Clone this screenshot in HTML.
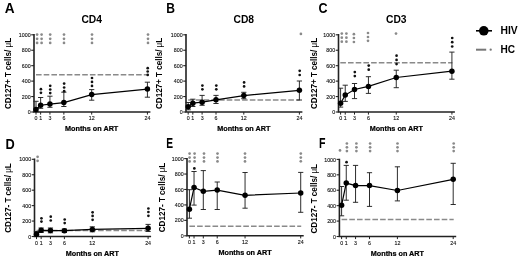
<!DOCTYPE html>
<html><head><meta charset="utf-8"><style>
html,body{margin:0;padding:0;background:#fff;}
body{width:520px;height:259px;overflow:hidden;}
svg{display:block;font-family:"Liberation Sans", sans-serif;will-change:transform;}
</style></head><body>
<svg width="520" height="259" viewBox="0 0 520 259" xmlns="http://www.w3.org/2000/svg">
<rect width="520" height="259" fill="#fff"/>
<text x="0" y="0" font-size="14.2" font-weight="bold" text-anchor="start" fill="#000" transform="translate(4.7,13.1) scale(0.96,1)">A</text>
<text x="91.7" y="22.8" font-size="10.0" font-weight="bold" text-anchor="middle" fill="#000"  textLength="20.6" lengthAdjust="spacingAndGlyphs">CD4</text>
<text x="0" y="0" font-size="8.7" font-weight="bold" text-anchor="middle" fill="#000" transform="translate(10.7,73.5) rotate(-90)" textLength="71.2" lengthAdjust="spacingAndGlyphs">CD127+ T cells/ <tspan font-weight="normal">μ</tspan>L</text>
<text x="91.7" y="131.2" font-size="7.25" font-weight="bold" text-anchor="middle" fill="#000" stroke="#000" stroke-width="0.22" textLength="53.2" lengthAdjust="spacingAndGlyphs">Months on ART</text>
<path d="M34,34.1V112H150.41" fill="none" stroke="#222" stroke-width="1.6"/>
<path d="M31.2,112H34" stroke="#222" stroke-width="1.1"/>
<text x="30.6" y="114.1" font-size="6.2" font-weight="normal" text-anchor="end" fill="#111" stroke="#111" stroke-width="0.12" textLength="2.95" lengthAdjust="spacingAndGlyphs">0</text>
<path d="M31.2,96.56H34" stroke="#222" stroke-width="1.1"/>
<text x="30.6" y="98.66" font-size="6.2" font-weight="normal" text-anchor="end" fill="#111" stroke="#111" stroke-width="0.12" textLength="8.85" lengthAdjust="spacingAndGlyphs">200</text>
<path d="M31.2,81.12H34" stroke="#222" stroke-width="1.1"/>
<text x="30.6" y="83.22" font-size="6.2" font-weight="normal" text-anchor="end" fill="#111" stroke="#111" stroke-width="0.12" textLength="8.85" lengthAdjust="spacingAndGlyphs">400</text>
<path d="M31.2,65.68H34" stroke="#222" stroke-width="1.1"/>
<text x="30.6" y="67.78" font-size="6.2" font-weight="normal" text-anchor="end" fill="#111" stroke="#111" stroke-width="0.12" textLength="8.85" lengthAdjust="spacingAndGlyphs">600</text>
<path d="M31.2,50.24H34" stroke="#222" stroke-width="1.1"/>
<text x="30.6" y="52.34" font-size="6.2" font-weight="normal" text-anchor="end" fill="#111" stroke="#111" stroke-width="0.12" textLength="8.85" lengthAdjust="spacingAndGlyphs">800</text>
<path d="M31.2,34.8H34" stroke="#222" stroke-width="1.1"/>
<text x="30.6" y="36.9" font-size="6.2" font-weight="normal" text-anchor="end" fill="#111" stroke="#111" stroke-width="0.12" textLength="11.8" lengthAdjust="spacingAndGlyphs">1000</text>
<path d="M36,112V114.6" stroke="#222" stroke-width="1.0"/>
<text x="36" y="119.9" font-size="6.2" font-weight="normal" text-anchor="middle" fill="#111" stroke="#111" stroke-width="0.12" textLength="2.95" lengthAdjust="spacingAndGlyphs">0</text>
<path d="M40.64,112V114.6" stroke="#222" stroke-width="1.0"/>
<text x="40.64" y="119.9" font-size="6.2" font-weight="normal" text-anchor="middle" fill="#111" stroke="#111" stroke-width="0.12" textLength="2.95" lengthAdjust="spacingAndGlyphs">1</text>
<path d="M49.93,112V114.6" stroke="#222" stroke-width="1.0"/>
<text x="49.93" y="119.9" font-size="6.2" font-weight="normal" text-anchor="middle" fill="#111" stroke="#111" stroke-width="0.12" textLength="2.95" lengthAdjust="spacingAndGlyphs">3</text>
<path d="M63.85,112V114.6" stroke="#222" stroke-width="1.0"/>
<text x="63.85" y="119.9" font-size="6.2" font-weight="normal" text-anchor="middle" fill="#111" stroke="#111" stroke-width="0.12" textLength="2.95" lengthAdjust="spacingAndGlyphs">6</text>
<path d="M91.7,112V114.6" stroke="#222" stroke-width="1.0"/>
<text x="91.7" y="119.9" font-size="6.2" font-weight="normal" text-anchor="middle" fill="#111" stroke="#111" stroke-width="0.12" textLength="5.9" lengthAdjust="spacingAndGlyphs">12</text>
<path d="M147.41,112V114.6" stroke="#222" stroke-width="1.0"/>
<text x="147.41" y="119.9" font-size="6.2" font-weight="normal" text-anchor="middle" fill="#111" stroke="#111" stroke-width="0.12" textLength="5.9" lengthAdjust="spacingAndGlyphs">24</text>
<path d="M36,74.8H147.91" stroke="#8a8a8a" stroke-width="1.5" stroke-dasharray="5.6 2.1"/>
<path d="M36,101.3V111.6M33.4,101.3H38.6M33.4,111.6H38.6" stroke="#222" stroke-width="0.95" fill="none"/>
<path d="M40.64,97.5V108.3M38.04,97.5H43.24M38.04,108.3H43.24" stroke="#222" stroke-width="0.95" fill="none"/>
<path d="M49.93,96.2V107.3M47.33,96.2H52.53M47.33,107.3H52.53" stroke="#222" stroke-width="0.95" fill="none"/>
<path d="M63.85,92.2V106.5M61.25,92.2H66.45M61.25,106.5H66.45" stroke="#222" stroke-width="0.95" fill="none"/>
<path d="M91.7,89.6V100.2M89.1,89.6H94.3M89.1,100.2H94.3" stroke="#222" stroke-width="0.95" fill="none"/>
<path d="M147.41,82.2V97.2M144.81,82.2H150.01M144.81,97.2H150.01" stroke="#222" stroke-width="0.95" fill="none"/>
<polyline points="36,109.5 40.64,105.2 49.93,104.1 63.85,102.6 91.7,94.6 147.41,89.1" fill="none" stroke="#000" stroke-width="1.2"/>
<circle cx="36" cy="109.5" r="2.75" fill="#000"/>
<circle cx="40.64" cy="105.2" r="2.75" fill="#000"/>
<circle cx="49.93" cy="104.1" r="2.75" fill="#000"/>
<circle cx="63.85" cy="102.6" r="2.75" fill="#000"/>
<circle cx="91.7" cy="94.6" r="2.75" fill="#000"/>
<circle cx="147.41" cy="89.1" r="2.75" fill="#000"/>
<circle cx="40.94" cy="89.2" r="1.35" fill="#111"/>
<circle cx="40.94" cy="92.8" r="1.35" fill="#111"/>
<circle cx="50.23" cy="85.8" r="1.35" fill="#111"/>
<circle cx="50.23" cy="89.5" r="1.35" fill="#111"/>
<circle cx="50.23" cy="93.1" r="1.35" fill="#111"/>
<circle cx="64.15" cy="83.6" r="1.35" fill="#111"/>
<circle cx="64.15" cy="87.5" r="1.35" fill="#111"/>
<circle cx="64.15" cy="91.2" r="1.35" fill="#111"/>
<circle cx="92" cy="78" r="1.35" fill="#111"/>
<circle cx="92" cy="81.9" r="1.35" fill="#111"/>
<circle cx="92" cy="85.9" r="1.35" fill="#111"/>
<circle cx="147.71" cy="68.2" r="1.35" fill="#111"/>
<circle cx="147.71" cy="71.5" r="1.35" fill="#111"/>
<circle cx="147.71" cy="74.9" r="1.35" fill="#111"/>
<circle cx="37.1" cy="34.6" r="1.35" fill="#8a8a8a"/>
<circle cx="37.1" cy="38.8" r="1.35" fill="#8a8a8a"/>
<circle cx="37.1" cy="42.9" r="1.35" fill="#8a8a8a"/>
<circle cx="41.6" cy="34.6" r="1.35" fill="#8a8a8a"/>
<circle cx="41.6" cy="38.8" r="1.35" fill="#8a8a8a"/>
<circle cx="41.6" cy="42.9" r="1.35" fill="#8a8a8a"/>
<circle cx="50.2" cy="34.6" r="1.35" fill="#8a8a8a"/>
<circle cx="50.2" cy="38.8" r="1.35" fill="#8a8a8a"/>
<circle cx="50.2" cy="42.9" r="1.35" fill="#8a8a8a"/>
<circle cx="64" cy="34.6" r="1.35" fill="#8a8a8a"/>
<circle cx="64" cy="38.8" r="1.35" fill="#8a8a8a"/>
<circle cx="64" cy="42.9" r="1.35" fill="#8a8a8a"/>
<circle cx="92" cy="34.6" r="1.35" fill="#8a8a8a"/>
<circle cx="92" cy="38.8" r="1.35" fill="#8a8a8a"/>
<circle cx="92" cy="42.9" r="1.35" fill="#8a8a8a"/>
<circle cx="148" cy="34.6" r="1.35" fill="#8a8a8a"/>
<circle cx="148" cy="38.8" r="1.35" fill="#8a8a8a"/>
<circle cx="148" cy="42.9" r="1.35" fill="#8a8a8a"/>
<text x="0" y="0" font-size="14.2" font-weight="bold" text-anchor="start" fill="#000" transform="translate(166.3,13) scale(0.85,1)">B</text>
<text x="243.8" y="22.8" font-size="10.0" font-weight="bold" text-anchor="middle" fill="#000"  textLength="20.6" lengthAdjust="spacingAndGlyphs">CD8</text>
<text x="0" y="0" font-size="8.7" font-weight="bold" text-anchor="middle" fill="#000" transform="translate(161.8,73.4) rotate(-90)" textLength="71.2" lengthAdjust="spacingAndGlyphs">CD127+ T cells/ <tspan font-weight="normal">μ</tspan>L</text>
<text x="243.8" y="131.2" font-size="7.25" font-weight="bold" text-anchor="middle" fill="#000" stroke="#000" stroke-width="0.22" textLength="53.2" lengthAdjust="spacingAndGlyphs">Months on ART</text>
<path d="M186,34.1V112H302.39" fill="none" stroke="#222" stroke-width="1.6"/>
<path d="M183.2,112H186" stroke="#222" stroke-width="1.1"/>
<text x="182.6" y="114.1" font-size="6.2" font-weight="normal" text-anchor="end" fill="#111" stroke="#111" stroke-width="0.12" textLength="2.95" lengthAdjust="spacingAndGlyphs">0</text>
<path d="M183.2,96.56H186" stroke="#222" stroke-width="1.1"/>
<text x="182.6" y="98.66" font-size="6.2" font-weight="normal" text-anchor="end" fill="#111" stroke="#111" stroke-width="0.12" textLength="8.85" lengthAdjust="spacingAndGlyphs">200</text>
<path d="M183.2,81.12H186" stroke="#222" stroke-width="1.1"/>
<text x="182.6" y="83.22" font-size="6.2" font-weight="normal" text-anchor="end" fill="#111" stroke="#111" stroke-width="0.12" textLength="8.85" lengthAdjust="spacingAndGlyphs">400</text>
<path d="M183.2,65.68H186" stroke="#222" stroke-width="1.1"/>
<text x="182.6" y="67.78" font-size="6.2" font-weight="normal" text-anchor="end" fill="#111" stroke="#111" stroke-width="0.12" textLength="8.85" lengthAdjust="spacingAndGlyphs">600</text>
<path d="M183.2,50.24H186" stroke="#222" stroke-width="1.1"/>
<text x="182.6" y="52.34" font-size="6.2" font-weight="normal" text-anchor="end" fill="#111" stroke="#111" stroke-width="0.12" textLength="8.85" lengthAdjust="spacingAndGlyphs">800</text>
<path d="M183.2,34.8H186" stroke="#222" stroke-width="1.1"/>
<text x="182.6" y="36.9" font-size="6.2" font-weight="normal" text-anchor="end" fill="#111" stroke="#111" stroke-width="0.12" textLength="11.8" lengthAdjust="spacingAndGlyphs">1000</text>
<path d="M188.2,112V114.6" stroke="#222" stroke-width="1.0"/>
<text x="188.2" y="119.9" font-size="6.2" font-weight="normal" text-anchor="middle" fill="#111" stroke="#111" stroke-width="0.12" textLength="2.95" lengthAdjust="spacingAndGlyphs">0</text>
<path d="M192.83,112V114.6" stroke="#222" stroke-width="1.0"/>
<text x="192.83" y="119.9" font-size="6.2" font-weight="normal" text-anchor="middle" fill="#111" stroke="#111" stroke-width="0.12" textLength="2.95" lengthAdjust="spacingAndGlyphs">1</text>
<path d="M202.1,112V114.6" stroke="#222" stroke-width="1.0"/>
<text x="202.1" y="119.9" font-size="6.2" font-weight="normal" text-anchor="middle" fill="#111" stroke="#111" stroke-width="0.12" textLength="2.95" lengthAdjust="spacingAndGlyphs">3</text>
<path d="M216,112V114.6" stroke="#222" stroke-width="1.0"/>
<text x="216" y="119.9" font-size="6.2" font-weight="normal" text-anchor="middle" fill="#111" stroke="#111" stroke-width="0.12" textLength="2.95" lengthAdjust="spacingAndGlyphs">6</text>
<path d="M243.8,112V114.6" stroke="#222" stroke-width="1.0"/>
<text x="243.8" y="119.9" font-size="6.2" font-weight="normal" text-anchor="middle" fill="#111" stroke="#111" stroke-width="0.12" textLength="5.9" lengthAdjust="spacingAndGlyphs">12</text>
<path d="M299.39,112V114.6" stroke="#222" stroke-width="1.0"/>
<text x="299.39" y="119.9" font-size="6.2" font-weight="normal" text-anchor="middle" fill="#111" stroke="#111" stroke-width="0.12" textLength="5.9" lengthAdjust="spacingAndGlyphs">24</text>
<path d="M188.2,100H299.89" stroke="#8a8a8a" stroke-width="1.5" stroke-dasharray="5.6 2.1"/>
<path d="M188.2,102.5V109.8M185.6,102.5H190.8M185.6,109.8H190.8" stroke="#222" stroke-width="0.95" fill="none"/>
<path d="M192.83,99.2V106.5M190.23,99.2H195.43M190.23,106.5H195.43" stroke="#222" stroke-width="0.95" fill="none"/>
<path d="M202.1,95.4V105.3M199.5,95.4H204.7M199.5,105.3H204.7" stroke="#222" stroke-width="0.95" fill="none"/>
<path d="M216,95.4V103.5M213.4,95.4H218.6M213.4,103.5H218.6" stroke="#222" stroke-width="0.95" fill="none"/>
<path d="M243.8,92.3V98.7M241.2,92.3H246.4M241.2,98.7H246.4" stroke="#222" stroke-width="0.95" fill="none"/>
<path d="M299.39,81V100M296.79,81H301.99M296.79,100H301.99" stroke="#222" stroke-width="0.95" fill="none"/>
<polyline points="188.2,106.8 192.83,103.2 202.1,102.2 216,99.8 243.8,95.6 299.39,90.3" fill="none" stroke="#000" stroke-width="1.2"/>
<circle cx="188.2" cy="106.8" r="2.75" fill="#000"/>
<circle cx="192.83" cy="103.2" r="2.75" fill="#000"/>
<circle cx="202.1" cy="102.2" r="2.75" fill="#000"/>
<circle cx="216" cy="99.8" r="2.75" fill="#000"/>
<circle cx="243.8" cy="95.6" r="2.75" fill="#000"/>
<circle cx="299.39" cy="90.3" r="2.75" fill="#000"/>
<circle cx="202.4" cy="85.6" r="1.35" fill="#111"/>
<circle cx="202.4" cy="89.3" r="1.35" fill="#111"/>
<circle cx="216.3" cy="85.6" r="1.35" fill="#111"/>
<circle cx="216.3" cy="89.3" r="1.35" fill="#111"/>
<circle cx="244.1" cy="82.4" r="1.35" fill="#111"/>
<circle cx="244.1" cy="86.4" r="1.35" fill="#111"/>
<circle cx="299.69" cy="70.8" r="1.35" fill="#111"/>
<circle cx="299.69" cy="75" r="1.35" fill="#111"/>
<circle cx="300.9" cy="33.9" r="1.35" fill="#8a8a8a"/>
<text x="0" y="0" font-size="14.2" font-weight="bold" text-anchor="start" fill="#000" transform="translate(318.4,13.2) scale(0.88,1)">C</text>
<text x="396.26" y="22.8" font-size="10.0" font-weight="bold" text-anchor="middle" fill="#000"  textLength="20.6" lengthAdjust="spacingAndGlyphs">CD3</text>
<text x="0" y="0" font-size="8.7" font-weight="bold" text-anchor="middle" fill="#000" transform="translate(317.3,73.5) rotate(-90)" textLength="71.2" lengthAdjust="spacingAndGlyphs">CD127+ T cells/ <tspan font-weight="normal">μ</tspan>L</text>
<text x="396.26" y="131.2" font-size="7.25" font-weight="bold" text-anchor="middle" fill="#000" stroke="#000" stroke-width="0.22" textLength="53.2" lengthAdjust="spacingAndGlyphs">Months on ART</text>
<path d="M338.5,34.1V112H454.91" fill="none" stroke="#222" stroke-width="1.6"/>
<path d="M335.7,112H338.5" stroke="#222" stroke-width="1.1"/>
<text x="335.1" y="114.1" font-size="6.2" font-weight="normal" text-anchor="end" fill="#111" stroke="#111" stroke-width="0.12" textLength="2.95" lengthAdjust="spacingAndGlyphs">0</text>
<path d="M335.7,96.56H338.5" stroke="#222" stroke-width="1.1"/>
<text x="335.1" y="98.66" font-size="6.2" font-weight="normal" text-anchor="end" fill="#111" stroke="#111" stroke-width="0.12" textLength="8.85" lengthAdjust="spacingAndGlyphs">200</text>
<path d="M335.7,81.12H338.5" stroke="#222" stroke-width="1.1"/>
<text x="335.1" y="83.22" font-size="6.2" font-weight="normal" text-anchor="end" fill="#111" stroke="#111" stroke-width="0.12" textLength="8.85" lengthAdjust="spacingAndGlyphs">400</text>
<path d="M335.7,65.68H338.5" stroke="#222" stroke-width="1.1"/>
<text x="335.1" y="67.78" font-size="6.2" font-weight="normal" text-anchor="end" fill="#111" stroke="#111" stroke-width="0.12" textLength="8.85" lengthAdjust="spacingAndGlyphs">600</text>
<path d="M335.7,50.24H338.5" stroke="#222" stroke-width="1.1"/>
<text x="335.1" y="52.34" font-size="6.2" font-weight="normal" text-anchor="end" fill="#111" stroke="#111" stroke-width="0.12" textLength="8.85" lengthAdjust="spacingAndGlyphs">800</text>
<path d="M335.7,34.8H338.5" stroke="#222" stroke-width="1.1"/>
<text x="335.1" y="36.9" font-size="6.2" font-weight="normal" text-anchor="end" fill="#111" stroke="#111" stroke-width="0.12" textLength="11.8" lengthAdjust="spacingAndGlyphs">1000</text>
<path d="M340.6,112V114.6" stroke="#222" stroke-width="1.0"/>
<text x="340.6" y="119.9" font-size="6.2" font-weight="normal" text-anchor="middle" fill="#111" stroke="#111" stroke-width="0.12" textLength="2.95" lengthAdjust="spacingAndGlyphs">0</text>
<path d="M345.24,112V114.6" stroke="#222" stroke-width="1.0"/>
<text x="345.24" y="119.9" font-size="6.2" font-weight="normal" text-anchor="middle" fill="#111" stroke="#111" stroke-width="0.12" textLength="2.95" lengthAdjust="spacingAndGlyphs">1</text>
<path d="M354.51,112V114.6" stroke="#222" stroke-width="1.0"/>
<text x="354.51" y="119.9" font-size="6.2" font-weight="normal" text-anchor="middle" fill="#111" stroke="#111" stroke-width="0.12" textLength="2.95" lengthAdjust="spacingAndGlyphs">3</text>
<path d="M368.43,112V114.6" stroke="#222" stroke-width="1.0"/>
<text x="368.43" y="119.9" font-size="6.2" font-weight="normal" text-anchor="middle" fill="#111" stroke="#111" stroke-width="0.12" textLength="2.95" lengthAdjust="spacingAndGlyphs">6</text>
<path d="M396.26,112V114.6" stroke="#222" stroke-width="1.0"/>
<text x="396.26" y="119.9" font-size="6.2" font-weight="normal" text-anchor="middle" fill="#111" stroke="#111" stroke-width="0.12" textLength="5.9" lengthAdjust="spacingAndGlyphs">12</text>
<path d="M451.91,112V114.6" stroke="#222" stroke-width="1.0"/>
<text x="451.91" y="119.9" font-size="6.2" font-weight="normal" text-anchor="middle" fill="#111" stroke="#111" stroke-width="0.12" textLength="5.9" lengthAdjust="spacingAndGlyphs">24</text>
<path d="M340.3,62.7H452.41" stroke="#8a8a8a" stroke-width="1.5" stroke-dasharray="5.6 2.1"/>
<path d="M340.6,88.2V107.1M338,88.2H343.2M338,107.1H343.2" stroke="#222" stroke-width="0.95" fill="none"/>
<path d="M345.24,85.2V101.4M342.64,85.2H347.84M342.64,101.4H347.84" stroke="#222" stroke-width="0.95" fill="none"/>
<path d="M354.51,83.5V98.6M351.91,83.5H357.11M351.91,98.6H357.11" stroke="#222" stroke-width="0.95" fill="none"/>
<path d="M368.43,76.7V93.4M365.83,76.7H371.03M365.83,93.4H371.03" stroke="#222" stroke-width="0.95" fill="none"/>
<path d="M396.26,70.2V87.7M393.66,70.2H398.86M393.66,87.7H398.86" stroke="#222" stroke-width="0.95" fill="none"/>
<path d="M451.91,52.1V79.2M449.31,52.1H454.51M449.31,79.2H454.51" stroke="#222" stroke-width="0.95" fill="none"/>
<polyline points="340.6,103.2 345.24,95.1 354.51,89.5 368.43,86.4 396.26,77.5 451.91,71.2" fill="none" stroke="#000" stroke-width="1.2"/>
<circle cx="340.6" cy="103.2" r="2.75" fill="#000"/>
<circle cx="345.24" cy="95.1" r="2.75" fill="#000"/>
<circle cx="354.51" cy="89.5" r="2.75" fill="#000"/>
<circle cx="368.43" cy="86.4" r="2.75" fill="#000"/>
<circle cx="396.26" cy="77.5" r="2.75" fill="#000"/>
<circle cx="451.91" cy="71.2" r="2.75" fill="#000"/>
<circle cx="354.81" cy="72.1" r="1.35" fill="#111"/>
<circle cx="354.81" cy="76.1" r="1.35" fill="#111"/>
<circle cx="368.73" cy="65.6" r="1.35" fill="#111"/>
<circle cx="368.73" cy="69.7" r="1.35" fill="#111"/>
<circle cx="396.56" cy="55.7" r="1.35" fill="#111"/>
<circle cx="396.56" cy="59.9" r="1.35" fill="#111"/>
<circle cx="396.56" cy="64.1" r="1.35" fill="#111"/>
<circle cx="452.21" cy="38" r="1.35" fill="#111"/>
<circle cx="452.21" cy="42.2" r="1.35" fill="#111"/>
<circle cx="452.21" cy="46.5" r="1.35" fill="#111"/>
<circle cx="341.8" cy="33.6" r="1.35" fill="#8a8a8a"/>
<circle cx="341.8" cy="37.7" r="1.35" fill="#8a8a8a"/>
<circle cx="341.8" cy="41.7" r="1.35" fill="#8a8a8a"/>
<circle cx="346.4" cy="33.6" r="1.35" fill="#8a8a8a"/>
<circle cx="346.4" cy="37.7" r="1.35" fill="#8a8a8a"/>
<circle cx="346.4" cy="41.7" r="1.35" fill="#8a8a8a"/>
<circle cx="353.9" cy="34.2" r="1.35" fill="#8a8a8a"/>
<circle cx="353.9" cy="38" r="1.35" fill="#8a8a8a"/>
<circle cx="353.9" cy="42" r="1.35" fill="#8a8a8a"/>
<circle cx="368" cy="33" r="1.35" fill="#8a8a8a"/>
<circle cx="368" cy="37" r="1.35" fill="#8a8a8a"/>
<circle cx="368" cy="40.8" r="1.35" fill="#8a8a8a"/>
<circle cx="396" cy="33.6" r="1.35" fill="#8a8a8a"/>
<text x="0" y="0" font-size="14.2" font-weight="bold" text-anchor="start" fill="#000" transform="translate(5.4,148.5) scale(0.9,1)">D</text>
<text x="0" y="0" font-size="8.7" font-weight="bold" text-anchor="middle" fill="#000" transform="translate(10.7,198) rotate(-90)" textLength="69.6" lengthAdjust="spacingAndGlyphs">CD127- T cells/ <tspan font-weight="normal">μ</tspan>L</text>
<text x="92.3" y="255.7" font-size="7.25" font-weight="bold" text-anchor="middle" fill="#000" stroke="#000" stroke-width="0.22" textLength="53.2" lengthAdjust="spacingAndGlyphs">Months on ART</text>
<path d="M34.5,158.6V236.5H151.1" fill="none" stroke="#222" stroke-width="1.6"/>
<path d="M31.7,236.5H34.5" stroke="#222" stroke-width="1.1"/>
<text x="31.1" y="238.6" font-size="6.2" font-weight="normal" text-anchor="end" fill="#111" stroke="#111" stroke-width="0.12" textLength="2.95" lengthAdjust="spacingAndGlyphs">0</text>
<path d="M31.7,221.06H34.5" stroke="#222" stroke-width="1.1"/>
<text x="31.1" y="223.16" font-size="6.2" font-weight="normal" text-anchor="end" fill="#111" stroke="#111" stroke-width="0.12" textLength="8.85" lengthAdjust="spacingAndGlyphs">200</text>
<path d="M31.7,205.62H34.5" stroke="#222" stroke-width="1.1"/>
<text x="31.1" y="207.72" font-size="6.2" font-weight="normal" text-anchor="end" fill="#111" stroke="#111" stroke-width="0.12" textLength="8.85" lengthAdjust="spacingAndGlyphs">400</text>
<path d="M31.7,190.18H34.5" stroke="#222" stroke-width="1.1"/>
<text x="31.1" y="192.28" font-size="6.2" font-weight="normal" text-anchor="end" fill="#111" stroke="#111" stroke-width="0.12" textLength="8.85" lengthAdjust="spacingAndGlyphs">600</text>
<path d="M31.7,174.74H34.5" stroke="#222" stroke-width="1.1"/>
<text x="31.1" y="176.84" font-size="6.2" font-weight="normal" text-anchor="end" fill="#111" stroke="#111" stroke-width="0.12" textLength="8.85" lengthAdjust="spacingAndGlyphs">800</text>
<path d="M31.7,159.3H34.5" stroke="#222" stroke-width="1.1"/>
<text x="31.1" y="161.4" font-size="6.2" font-weight="normal" text-anchor="end" fill="#111" stroke="#111" stroke-width="0.12" textLength="11.8" lengthAdjust="spacingAndGlyphs">1000</text>
<path d="M36.5,236.5V239.1" stroke="#222" stroke-width="1.0"/>
<text x="36.5" y="244.7" font-size="6.2" font-weight="normal" text-anchor="middle" fill="#111" stroke="#111" stroke-width="0.12" textLength="2.95" lengthAdjust="spacingAndGlyphs">0</text>
<path d="M41.15,236.5V239.1" stroke="#222" stroke-width="1.0"/>
<text x="41.15" y="244.7" font-size="6.2" font-weight="normal" text-anchor="middle" fill="#111" stroke="#111" stroke-width="0.12" textLength="2.95" lengthAdjust="spacingAndGlyphs">1</text>
<path d="M50.45,236.5V239.1" stroke="#222" stroke-width="1.0"/>
<text x="50.45" y="244.7" font-size="6.2" font-weight="normal" text-anchor="middle" fill="#111" stroke="#111" stroke-width="0.12" textLength="2.95" lengthAdjust="spacingAndGlyphs">3</text>
<path d="M64.4,236.5V239.1" stroke="#222" stroke-width="1.0"/>
<text x="64.4" y="244.7" font-size="6.2" font-weight="normal" text-anchor="middle" fill="#111" stroke="#111" stroke-width="0.12" textLength="2.95" lengthAdjust="spacingAndGlyphs">6</text>
<path d="M92.3,236.5V239.1" stroke="#222" stroke-width="1.0"/>
<text x="92.3" y="244.7" font-size="6.2" font-weight="normal" text-anchor="middle" fill="#111" stroke="#111" stroke-width="0.12" textLength="5.9" lengthAdjust="spacingAndGlyphs">12</text>
<path d="M148.1,236.5V239.1" stroke="#222" stroke-width="1.0"/>
<text x="148.1" y="244.7" font-size="6.2" font-weight="normal" text-anchor="middle" fill="#111" stroke="#111" stroke-width="0.12" textLength="5.9" lengthAdjust="spacingAndGlyphs">24</text>
<path d="M36.5,230.6H148.6" stroke="#8a8a8a" stroke-width="1.5" stroke-dasharray="5.6 2.1"/>
<path d="M36.5,231.5V236.5M33.9,231.5H39.1M33.9,236.5H39.1" stroke="#222" stroke-width="0.95" fill="none"/>
<path d="M41.15,228V232.5M38.55,228H43.75M38.55,232.5H43.75" stroke="#222" stroke-width="0.95" fill="none"/>
<path d="M50.45,228V232.8M47.85,228H53.05M47.85,232.8H53.05" stroke="#222" stroke-width="0.95" fill="none"/>
<path d="M64.4,229V232.5M61.8,229H67M61.8,232.5H67" stroke="#222" stroke-width="0.95" fill="none"/>
<path d="M92.3,226.8V231.8M89.7,226.8H94.9M89.7,231.8H94.9" stroke="#222" stroke-width="0.95" fill="none"/>
<path d="M148.1,224.4V231.5M145.5,224.4H150.7M145.5,231.5H150.7" stroke="#222" stroke-width="0.95" fill="none"/>
<polyline points="36.5,234.3 41.15,230.3 50.45,230.6 64.4,230.7 92.3,229.4 148.1,228.3" fill="none" stroke="#000" stroke-width="1.2"/>
<circle cx="36.5" cy="234.3" r="2.75" fill="#000"/>
<circle cx="41.15" cy="230.3" r="2.75" fill="#000"/>
<circle cx="50.45" cy="230.6" r="2.75" fill="#000"/>
<circle cx="64.4" cy="230.7" r="2.75" fill="#000"/>
<circle cx="92.3" cy="229.4" r="2.75" fill="#000"/>
<circle cx="148.1" cy="228.3" r="2.75" fill="#000"/>
<circle cx="41.45" cy="218.3" r="1.35" fill="#111"/>
<circle cx="41.45" cy="221.6" r="1.35" fill="#111"/>
<circle cx="50.75" cy="216.7" r="1.35" fill="#111"/>
<circle cx="50.75" cy="220.5" r="1.35" fill="#111"/>
<circle cx="64.7" cy="219.5" r="1.35" fill="#111"/>
<circle cx="64.7" cy="223.1" r="1.35" fill="#111"/>
<circle cx="92.6" cy="212.3" r="1.35" fill="#111"/>
<circle cx="92.6" cy="215.9" r="1.35" fill="#111"/>
<circle cx="92.6" cy="219.8" r="1.35" fill="#111"/>
<circle cx="148.4" cy="208.5" r="1.35" fill="#111"/>
<circle cx="148.4" cy="212" r="1.35" fill="#111"/>
<circle cx="148.4" cy="215.8" r="1.35" fill="#111"/>
<circle cx="37.6" cy="156.8" r="1.35" fill="#8a8a8a"/>
<circle cx="37.6" cy="160.8" r="1.35" fill="#8a8a8a"/>
<text x="0" y="0" font-size="14.2" font-weight="bold" text-anchor="start" fill="#000" transform="translate(166.3,148.1) scale(0.72,1)">E</text>
<text x="0" y="0" font-size="8.7" font-weight="bold" text-anchor="middle" fill="#000" transform="translate(165,197.5) rotate(-90)" textLength="69.6" lengthAdjust="spacingAndGlyphs">CD127- T cells/ <tspan font-weight="normal">μ</tspan>L</text>
<text x="245.06" y="255" font-size="7.25" font-weight="bold" text-anchor="middle" fill="#000" stroke="#000" stroke-width="0.22" textLength="53.2" lengthAdjust="spacingAndGlyphs">Months on ART</text>
<path d="M187,157.9V235.8H303.71" fill="none" stroke="#222" stroke-width="1.6"/>
<path d="M184.2,235.8H187" stroke="#222" stroke-width="1.1"/>
<text x="183.6" y="237.9" font-size="6.2" font-weight="normal" text-anchor="end" fill="#111" stroke="#111" stroke-width="0.12" textLength="2.95" lengthAdjust="spacingAndGlyphs">0</text>
<path d="M184.2,220.36H187" stroke="#222" stroke-width="1.1"/>
<text x="183.6" y="222.46" font-size="6.2" font-weight="normal" text-anchor="end" fill="#111" stroke="#111" stroke-width="0.12" textLength="8.85" lengthAdjust="spacingAndGlyphs">200</text>
<path d="M184.2,204.92H187" stroke="#222" stroke-width="1.1"/>
<text x="183.6" y="207.02" font-size="6.2" font-weight="normal" text-anchor="end" fill="#111" stroke="#111" stroke-width="0.12" textLength="8.85" lengthAdjust="spacingAndGlyphs">400</text>
<path d="M184.2,189.48H187" stroke="#222" stroke-width="1.1"/>
<text x="183.6" y="191.58" font-size="6.2" font-weight="normal" text-anchor="end" fill="#111" stroke="#111" stroke-width="0.12" textLength="8.85" lengthAdjust="spacingAndGlyphs">600</text>
<path d="M184.2,174.04H187" stroke="#222" stroke-width="1.1"/>
<text x="183.6" y="176.14" font-size="6.2" font-weight="normal" text-anchor="end" fill="#111" stroke="#111" stroke-width="0.12" textLength="8.85" lengthAdjust="spacingAndGlyphs">800</text>
<path d="M184.2,158.6H187" stroke="#222" stroke-width="1.1"/>
<text x="183.6" y="160.7" font-size="6.2" font-weight="normal" text-anchor="end" fill="#111" stroke="#111" stroke-width="0.12" textLength="11.8" lengthAdjust="spacingAndGlyphs">1000</text>
<path d="M189.4,235.8V238.4" stroke="#222" stroke-width="1.0"/>
<text x="189.4" y="244" font-size="6.2" font-weight="normal" text-anchor="middle" fill="#111" stroke="#111" stroke-width="0.12" textLength="2.95" lengthAdjust="spacingAndGlyphs">0</text>
<path d="M194.04,235.8V238.4" stroke="#222" stroke-width="1.0"/>
<text x="194.04" y="244" font-size="6.2" font-weight="normal" text-anchor="middle" fill="#111" stroke="#111" stroke-width="0.12" textLength="2.95" lengthAdjust="spacingAndGlyphs">1</text>
<path d="M203.31,235.8V238.4" stroke="#222" stroke-width="1.0"/>
<text x="203.31" y="244" font-size="6.2" font-weight="normal" text-anchor="middle" fill="#111" stroke="#111" stroke-width="0.12" textLength="2.95" lengthAdjust="spacingAndGlyphs">3</text>
<path d="M217.23,235.8V238.4" stroke="#222" stroke-width="1.0"/>
<text x="217.23" y="244" font-size="6.2" font-weight="normal" text-anchor="middle" fill="#111" stroke="#111" stroke-width="0.12" textLength="2.95" lengthAdjust="spacingAndGlyphs">6</text>
<path d="M245.06,235.8V238.4" stroke="#222" stroke-width="1.0"/>
<text x="245.06" y="244" font-size="6.2" font-weight="normal" text-anchor="middle" fill="#111" stroke="#111" stroke-width="0.12" textLength="5.9" lengthAdjust="spacingAndGlyphs">12</text>
<path d="M300.71,235.8V238.4" stroke="#222" stroke-width="1.0"/>
<text x="300.71" y="244" font-size="6.2" font-weight="normal" text-anchor="middle" fill="#111" stroke="#111" stroke-width="0.12" textLength="5.9" lengthAdjust="spacingAndGlyphs">24</text>
<path d="M189.4,226.2H301.21" stroke="#8a8a8a" stroke-width="1.5" stroke-dasharray="5.6 2.1"/>
<path d="M189.4,189.7V218.2M186.8,189.7H192M186.8,218.2H192" stroke="#222" stroke-width="0.95" fill="none"/>
<path d="M194.04,171.5V205.1M191.44,171.5H196.64M191.44,205.1H196.64" stroke="#222" stroke-width="0.95" fill="none"/>
<path d="M203.31,170.6V209.5M200.71,170.6H205.91M200.71,209.5H205.91" stroke="#222" stroke-width="0.95" fill="none"/>
<path d="M217.23,182V209.5M214.63,182H219.83M214.63,209.5H219.83" stroke="#222" stroke-width="0.95" fill="none"/>
<path d="M245.06,172.5V208.2M242.46,172.5H247.66M242.46,208.2H247.66" stroke="#222" stroke-width="0.95" fill="none"/>
<path d="M300.71,172.4V212.3M298.11,172.4H303.31M298.11,212.3H303.31" stroke="#222" stroke-width="0.95" fill="none"/>
<polyline points="189.4,209.2 194.04,187.5 203.31,191.3 217.23,190.1 245.06,195.3 300.71,193" fill="none" stroke="#000" stroke-width="1.2"/>
<circle cx="189.4" cy="209.2" r="2.75" fill="#000"/>
<circle cx="194.04" cy="187.5" r="2.75" fill="#000"/>
<circle cx="203.31" cy="191.3" r="2.75" fill="#000"/>
<circle cx="217.23" cy="190.1" r="2.75" fill="#000"/>
<circle cx="245.06" cy="195.3" r="2.75" fill="#000"/>
<circle cx="300.71" cy="193" r="2.75" fill="#000"/>
<circle cx="194.34" cy="168.4" r="1.35" fill="#111"/>
<circle cx="189.6" cy="153.6" r="1.35" fill="#8a8a8a"/>
<circle cx="189.6" cy="157.6" r="1.35" fill="#8a8a8a"/>
<circle cx="189.6" cy="161.4" r="1.35" fill="#8a8a8a"/>
<circle cx="194.6" cy="153.6" r="1.35" fill="#8a8a8a"/>
<circle cx="194.6" cy="157.6" r="1.35" fill="#8a8a8a"/>
<circle cx="194.6" cy="161.4" r="1.35" fill="#8a8a8a"/>
<circle cx="204" cy="153.6" r="1.35" fill="#8a8a8a"/>
<circle cx="204" cy="157.6" r="1.35" fill="#8a8a8a"/>
<circle cx="204" cy="161.4" r="1.35" fill="#8a8a8a"/>
<circle cx="217.5" cy="153.6" r="1.35" fill="#8a8a8a"/>
<circle cx="217.5" cy="157.6" r="1.35" fill="#8a8a8a"/>
<circle cx="217.5" cy="161.4" r="1.35" fill="#8a8a8a"/>
<circle cx="245" cy="153.6" r="1.35" fill="#8a8a8a"/>
<circle cx="245" cy="157.6" r="1.35" fill="#8a8a8a"/>
<circle cx="245" cy="161.4" r="1.35" fill="#8a8a8a"/>
<circle cx="300.8" cy="153.6" r="1.35" fill="#8a8a8a"/>
<circle cx="300.8" cy="157.6" r="1.35" fill="#8a8a8a"/>
<circle cx="300.8" cy="161.3" r="1.35" fill="#8a8a8a"/>
<text x="0" y="0" font-size="14.2" font-weight="bold" text-anchor="start" fill="#000" transform="translate(318.9,147.7) scale(0.75,1)">F</text>
<text x="0" y="0" font-size="8.7" font-weight="bold" text-anchor="middle" fill="#000" transform="translate(317,198.75) rotate(-90)" textLength="69.6" lengthAdjust="spacingAndGlyphs">CD127- T cells/ <tspan font-weight="normal">μ</tspan>L</text>
<text x="397.4" y="255.7" font-size="7.25" font-weight="bold" text-anchor="middle" fill="#000" stroke="#000" stroke-width="0.22" textLength="53.2" lengthAdjust="spacingAndGlyphs">Months on ART</text>
<path d="M339.4,158.7V236.5H456.2" fill="none" stroke="#222" stroke-width="1.6"/>
<path d="M336.6,236.5H339.4" stroke="#222" stroke-width="1.1"/>
<text x="336" y="238.6" font-size="6.2" font-weight="normal" text-anchor="end" fill="#111" stroke="#111" stroke-width="0.12" textLength="2.95" lengthAdjust="spacingAndGlyphs">0</text>
<path d="M336.6,221.08H339.4" stroke="#222" stroke-width="1.1"/>
<text x="336" y="223.18" font-size="6.2" font-weight="normal" text-anchor="end" fill="#111" stroke="#111" stroke-width="0.12" textLength="8.85" lengthAdjust="spacingAndGlyphs">200</text>
<path d="M336.6,205.66H339.4" stroke="#222" stroke-width="1.1"/>
<text x="336" y="207.76" font-size="6.2" font-weight="normal" text-anchor="end" fill="#111" stroke="#111" stroke-width="0.12" textLength="8.85" lengthAdjust="spacingAndGlyphs">400</text>
<path d="M336.6,190.24H339.4" stroke="#222" stroke-width="1.1"/>
<text x="336" y="192.34" font-size="6.2" font-weight="normal" text-anchor="end" fill="#111" stroke="#111" stroke-width="0.12" textLength="8.85" lengthAdjust="spacingAndGlyphs">600</text>
<path d="M336.6,174.82H339.4" stroke="#222" stroke-width="1.1"/>
<text x="336" y="176.92" font-size="6.2" font-weight="normal" text-anchor="end" fill="#111" stroke="#111" stroke-width="0.12" textLength="8.85" lengthAdjust="spacingAndGlyphs">800</text>
<path d="M336.6,159.4H339.4" stroke="#222" stroke-width="1.1"/>
<text x="336" y="161.5" font-size="6.2" font-weight="normal" text-anchor="end" fill="#111" stroke="#111" stroke-width="0.12" textLength="11.8" lengthAdjust="spacingAndGlyphs">1000</text>
<path d="M341.6,236.5V239.1" stroke="#222" stroke-width="1.0"/>
<text x="341.6" y="244.7" font-size="6.2" font-weight="normal" text-anchor="middle" fill="#111" stroke="#111" stroke-width="0.12" textLength="2.95" lengthAdjust="spacingAndGlyphs">0</text>
<path d="M346.25,236.5V239.1" stroke="#222" stroke-width="1.0"/>
<text x="346.25" y="244.7" font-size="6.2" font-weight="normal" text-anchor="middle" fill="#111" stroke="#111" stroke-width="0.12" textLength="2.95" lengthAdjust="spacingAndGlyphs">1</text>
<path d="M355.55,236.5V239.1" stroke="#222" stroke-width="1.0"/>
<text x="355.55" y="244.7" font-size="6.2" font-weight="normal" text-anchor="middle" fill="#111" stroke="#111" stroke-width="0.12" textLength="2.95" lengthAdjust="spacingAndGlyphs">3</text>
<path d="M369.5,236.5V239.1" stroke="#222" stroke-width="1.0"/>
<text x="369.5" y="244.7" font-size="6.2" font-weight="normal" text-anchor="middle" fill="#111" stroke="#111" stroke-width="0.12" textLength="2.95" lengthAdjust="spacingAndGlyphs">6</text>
<path d="M397.4,236.5V239.1" stroke="#222" stroke-width="1.0"/>
<text x="397.4" y="244.7" font-size="6.2" font-weight="normal" text-anchor="middle" fill="#111" stroke="#111" stroke-width="0.12" textLength="5.9" lengthAdjust="spacingAndGlyphs">12</text>
<path d="M453.2,236.5V239.1" stroke="#222" stroke-width="1.0"/>
<text x="453.2" y="244.7" font-size="6.2" font-weight="normal" text-anchor="middle" fill="#111" stroke="#111" stroke-width="0.12" textLength="5.9" lengthAdjust="spacingAndGlyphs">24</text>
<path d="M341.6,219.4H453.7" stroke="#8a8a8a" stroke-width="1.5" stroke-dasharray="5.6 2.1"/>
<path d="M341.6,186.5V215.8M339,186.5H344.2M339,215.8H344.2" stroke="#222" stroke-width="0.95" fill="none"/>
<path d="M346.25,165.4V200.2M343.65,165.4H348.85M343.65,200.2H348.85" stroke="#222" stroke-width="0.95" fill="none"/>
<path d="M355.55,165.4V202.3M352.95,165.4H358.15M352.95,202.3H358.15" stroke="#222" stroke-width="0.95" fill="none"/>
<path d="M369.5,172.7V206.4M366.9,172.7H372.1M366.9,206.4H372.1" stroke="#222" stroke-width="0.95" fill="none"/>
<path d="M397.4,166.8V200.9M394.8,166.8H400M394.8,200.9H400" stroke="#222" stroke-width="0.95" fill="none"/>
<path d="M453.2,163.3V204.5M450.6,163.3H455.8M450.6,204.5H455.8" stroke="#222" stroke-width="0.95" fill="none"/>
<polyline points="341.6,205.2 346.25,183.1 355.55,185.6 369.5,185.6 397.4,190.5 453.2,179.3" fill="none" stroke="#000" stroke-width="1.2"/>
<circle cx="341.6" cy="205.2" r="2.75" fill="#000"/>
<circle cx="346.25" cy="183.1" r="2.75" fill="#000"/>
<circle cx="355.55" cy="185.6" r="2.75" fill="#000"/>
<circle cx="369.5" cy="185.6" r="2.75" fill="#000"/>
<circle cx="397.4" cy="190.5" r="2.75" fill="#000"/>
<circle cx="453.2" cy="179.3" r="2.75" fill="#000"/>
<circle cx="346.55" cy="162.2" r="1.35" fill="#111"/>
<circle cx="340" cy="150.4" r="1.35" fill="#8a8a8a"/>
<circle cx="346.9" cy="143.5" r="1.35" fill="#8a8a8a"/>
<circle cx="346.9" cy="147.3" r="1.35" fill="#8a8a8a"/>
<circle cx="346.9" cy="151.1" r="1.35" fill="#8a8a8a"/>
<circle cx="356.4" cy="143.5" r="1.35" fill="#8a8a8a"/>
<circle cx="356.4" cy="147.3" r="1.35" fill="#8a8a8a"/>
<circle cx="356.4" cy="151.1" r="1.35" fill="#8a8a8a"/>
<circle cx="370.1" cy="143.5" r="1.35" fill="#8a8a8a"/>
<circle cx="370.1" cy="147.3" r="1.35" fill="#8a8a8a"/>
<circle cx="370.1" cy="151.1" r="1.35" fill="#8a8a8a"/>
<circle cx="397.5" cy="143.5" r="1.35" fill="#8a8a8a"/>
<circle cx="397.5" cy="147.3" r="1.35" fill="#8a8a8a"/>
<circle cx="397.5" cy="151.1" r="1.35" fill="#8a8a8a"/>
<circle cx="453.7" cy="143.5" r="1.35" fill="#8a8a8a"/>
<circle cx="453.7" cy="147.3" r="1.35" fill="#8a8a8a"/>
<circle cx="453.7" cy="151.1" r="1.35" fill="#8a8a8a"/>
<path d="M476,30.8H492" stroke="#000" stroke-width="1.6"/>
<circle cx="483.8" cy="30.8" r="4.8" fill="#000"/>
<text x="500.5" y="34.3" font-size="10.1" font-weight="bold" text-anchor="start" fill="#000"  textLength="17.2" lengthAdjust="spacingAndGlyphs">HIV</text>
<path d="M476,49.7H486.2" stroke="#777" stroke-width="2"/>
<circle cx="490.7" cy="49.7" r="1.15" fill="#777"/>
<text x="500.5" y="53.2" font-size="10.3" font-weight="bold" text-anchor="start" fill="#000"  textLength="14.6" lengthAdjust="spacingAndGlyphs">HC</text>
</svg>
</body></html>
